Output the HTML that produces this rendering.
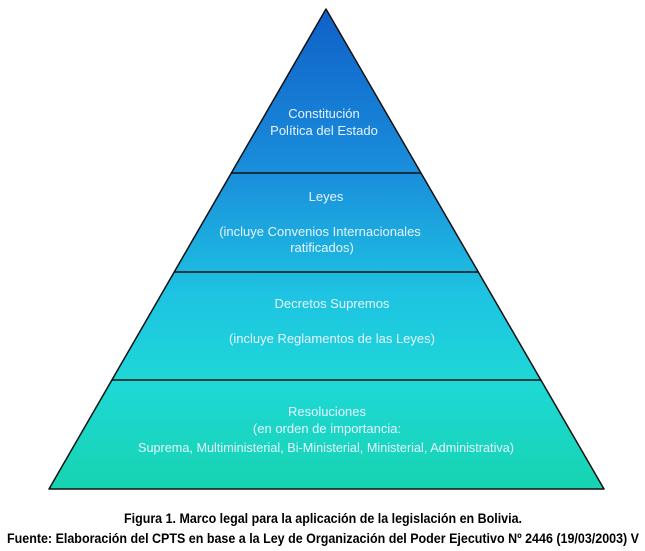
<!DOCTYPE html>
<html><head><meta charset="utf-8"><style>
html,body{margin:0;padding:0;background:#fff;}
svg{display:block;}
</style></head><body>
<svg width="645" height="551" viewBox="0 0 645 551" xmlns="http://www.w3.org/2000/svg">
<defs>
<linearGradient id="g" x1="0" y1="9" x2="0" y2="489" gradientUnits="userSpaceOnUse">
<stop offset="0" stop-color="#1060c8"/>
<stop offset="0.35" stop-color="#1a90dc"/>
<stop offset="0.6" stop-color="#1ec4e2"/>
<stop offset="0.78" stop-color="#1ed8d6"/>
<stop offset="1" stop-color="#16d4b0"/>
</linearGradient>
</defs>
<polygon points="326,9 604,489 49,489" fill="url(#g)" stroke="#111" stroke-width="1.5" stroke-linejoin="round"/>
<g stroke="#111" stroke-width="1.5">
<line x1="231" y1="173" x2="421" y2="173"/>
<line x1="174" y1="272" x2="478" y2="272"/>
<line x1="112" y1="380" x2="541" y2="380"/>
</g>
<g font-family="Liberation Sans, sans-serif" font-size="13" fill="#e6f4ff" text-anchor="middle">
<text x="324" y="118">Constitución</text>
<text x="324" y="135">Política del Estado</text>
<text x="326" y="201">Leyes</text>
<text x="320" y="236">(incluye Convenios Internacionales</text>
<text x="322" y="252">ratificados)</text>
<text x="332" y="308">Decretos Supremos</text>
<text x="332" y="343">(incluye Reglamentos de las Leyes)</text>
<text x="327" y="416">Resoluciones</text>
<text x="327" y="433">(en orden de importancia:</text>
<text x="326" y="452" textLength="376" lengthAdjust="spacingAndGlyphs">Suprema, Multiministerial,  Bi-Ministerial, Ministerial, Administrativa)</text>
</g>
<g font-family="Liberation Sans, sans-serif" font-size="14" font-weight="bold" fill="#000">
<text x="124" y="523" textLength="398" lengthAdjust="spacingAndGlyphs">Figura 1. Marco legal para la aplicación de la legislación en Bolivia.</text>
<text x="7" y="543" textLength="632" lengthAdjust="spacingAndGlyphs">Fuente: Elaboración del CPTS en base a la Ley de Organización del Poder Ejecutivo Nº 2446 (19/03/2003) V</text>
</g>
</svg>
</body></html>
